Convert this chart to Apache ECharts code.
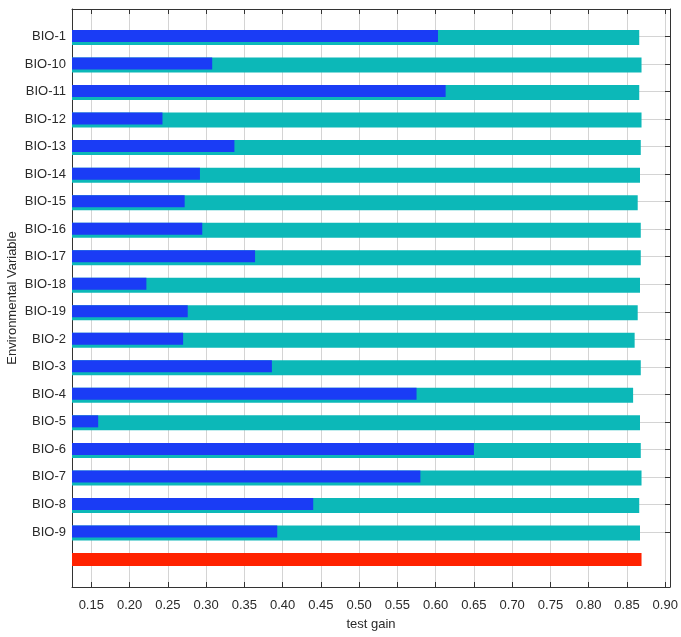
<!DOCTYPE html>
<html>
<head>
<meta charset="utf-8">
<script src="https://cdn.jsdelivr.net/npm/echarts@6/dist/echarts.min.js"></script>
<style>
html,body{margin:0;padding:0;background:#fff;}
#chart{width:681px;height:637px;}
</style>
</head>
<body>
<div id="chart"></div>
<script>
// ---- data ----
var variables = ['BIO-1','BIO-10','BIO-11','BIO-12','BIO-13','BIO-14','BIO-15','BIO-16','BIO-17','BIO-18','BIO-19','BIO-2','BIO-3','BIO-4','BIO-5','BIO-6','BIO-7','BIO-8','BIO-9'];
var withoutVariable = [0.866,0.869,0.866,0.869,0.868,0.867,0.864,0.868,0.868,0.867,0.864,0.860,0.868,0.858,0.867,0.868,0.869,0.866,0.867];
var withOnlyVariable = [0.603,0.308,0.613,0.243,0.337,0.292,0.272,0.295,0.364,0.222,0.276,0.270,0.386,0.575,0.159,0.650,0.580,0.440,0.393];
var withAllVariables = 0.869;
var xTickValues = [0.15,0.20,0.25,0.30,0.35,0.40,0.45,0.50,0.55,0.60,0.65,0.70,0.75,0.80,0.85,0.90];
var xMin = 0.1248, xMax = 0.9062;

// ---- build ----
var categories = [''].concat(variables).concat([' ', '  ']);
var tealData = [null].concat(withoutVariable).concat([null, null]);
var blueData = [null].concat(withOnlyVariable).concat([null, null]);
var redData = categories.map(function(c, i){ return i === variables.length + 1 ? withAllVariables : null; });
function rowTick(idx){ return idx >= 1 && idx <= variables.length; }

var font = "'Liberation Sans', Arial, sans-serif";
var txt = '#2a2a2a';
var lineCol = '#333';

var chart = echarts.init(document.getElementById('chart'), null, {renderer:'canvas'});
chart.setOption({
  animation:false,
  backgroundColor:'#fff',
  grid:{left:72, top:9, right:11, bottom:50, containLabel:false, outerBoundsMode:'none'},
  xAxis:[{
    type:'value', position:'bottom', min:xMin, max:xMax,
    name:'test gain', nameLocation:'middle', nameGap:31, nameMoveOverlap:false,
    nameTextStyle:{color:txt, fontFamily:font, fontSize:13},
    axisLine:{show:true, onZero:false, lineStyle:{color:lineCol, width:1}},
    axisTick:{show:true, inside:true, length:5, customValues:xTickValues, lineStyle:{color:lineCol}},
    axisLabel:{customValues:xTickValues, color:txt, fontFamily:font, fontSize:13, margin:12,
      formatter:function(v){ return v.toFixed(2); }},
    splitLine:{show:true, lineStyle:{color:'#d4d4d4', width:1}}
  },{
    type:'value', position:'top', min:xMin, max:xMax,
    axisLine:{show:true, onZero:false, lineStyle:{color:lineCol, width:1}},
    axisTick:{show:true, inside:true, length:5, customValues:xTickValues, lineStyle:{color:lineCol}},
    axisLabel:{show:false},
    splitLine:{show:false}
  }],
  yAxis:[{
    type:'category', data:categories, inverse:true, boundaryGap:false, position:'left',
    name:'Environmental Variable', nameLocation:'middle', nameRotate:90, nameGap:53, nameMoveOverlap:false,
    nameTextStyle:{color:txt, fontFamily:font, fontSize:13},
    axisLine:{show:true, onZero:false, lineStyle:{color:lineCol, width:1}},
    axisTick:{show:false},
    axisLabel:{color:txt, fontFamily:font, fontSize:13, margin:6, interval:0},
    splitLine:{show:true, interval:function(i){ return rowTick(i); }, lineStyle:{color:'#d4d4d4', width:1}}
  },{
    type:'category', data:categories, inverse:true, boundaryGap:false, position:'right',
    axisLine:{show:true, onZero:false, lineStyle:{color:lineCol, width:1}},
    axisTick:{show:true, inside:true, length:5, interval:function(i){ return rowTick(i); }, lineStyle:{color:lineCol}},
    axisLabel:{show:false},
    splitLine:{show:false}
  }],
  series:[{
    name:'Without variable', type:'bar', xAxisIndex:0, yAxisIndex:0,
    data:tealData, barWidth:15, barGap:'-100%',
    itemStyle:{color:'#0cb8b8'}
  },{
    name:'With only variable', type:'bar', xAxisIndex:0, yAxisIndex:0,
    data:blueData, barWidth:12, barGap:'-100%',
    itemStyle:{color:'#1a3cf5'}
  },{
    name:'With all variables', type:'bar', xAxisIndex:0, yAxisIndex:0,
    data:redData, barWidth:13, barGap:'-100%',
    itemStyle:{color:'#ff2200'}
  }]
});
</script>
</body>
</html>
